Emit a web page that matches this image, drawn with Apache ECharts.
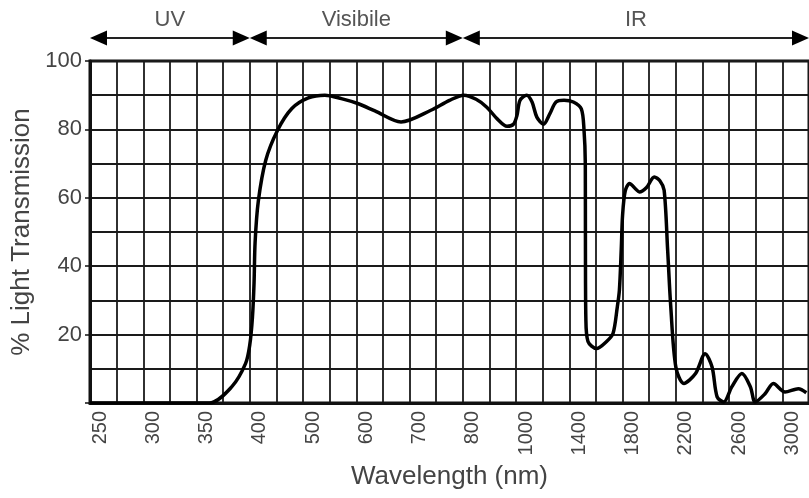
<!DOCTYPE html>
<html><head><meta charset="utf-8">
<script src="https://cdn.jsdelivr.net/npm/echarts@6/dist/echarts.min.js"></script>
<style>html,body{margin:0;padding:0;background:#fff}#c{width:809px;height:498px}</style>
</head><body><div id="c"></div>
<script>
// Tick labels of the (non-linear) wavelength axis, one every 2 grid cells
const tickWavelengths = [250,300,350,400,500,600,700,800,1000,1400,1800,2200,2600,3000];
const yTickLabels = [20,40,60,80,100];
// Spectral regions shown by the arrows above the plot
const regionNames = ['UV','Visibile','IR'];
const regionBounds = [250,400,800,3200];
// Transmission curve
const wavelength = [250,362,383,396,400,405,408,410,416,430,452,479,510,541,572,604,635,684,740,775,804,850,890,930,966,990,1006,1030,1080,1120,1156,1206,1254,1300,1360,1430,1490,1510,1520,1521,1524,1540,1604,1680,1728,1760,1776,1790,1800,1820,1852,1900,1926,1980,2038,2080,2112,2138,2162,2200,2260,2348,2420,2472,2510,2560,2620,2696,2760,2796,2870,2932,3020,3120,3180];
const transmission = [0,0,4.7,11.5,17,25,35,47,59,71,79.7,86.1,89.2,90,89,87.5,85.4,82.2,85.6,88.5,90,88.8,86.5,83,80.9,81.5,84,88.5,90,88,83.6,81.5,84.6,88,88.5,88,86,80,70,45,25,18,15.9,18,20.3,28,33,45,55,62,64.2,62.5,61.7,63,66.1,65,62.2,45,28,10.5,5.7,8.6,14.4,10.5,1.8,0.3,4.7,8.6,4.7,0.3,2.7,5.7,3.2,4.2,3];

// map a wavelength onto the piecewise axis (tick i sits at position 2*i)
function toPos(w){
  const t = tickWavelengths;
  let i = 0;
  while (i < t.length - 2 && w > t[i+1]) i++;
  return 2*i + 2*(w - t[i])/(t[i+1]-t[i]);
}
const FONT = 'Liberation Sans';
const data = wavelength.map((w,k)=>[toPos(w), transmission[k]]);
const chart = echarts.init(document.getElementById('c'), null, {renderer:'canvas'});
const gridLine = {show:true, lineStyle:{color:'#1a1a1a', width:1.8}};
chart.setOption({
  animation:false,
  backgroundColor:'#fff',
  grid:{left:90, top:61, width:726, height:342, show:true, borderColor:'#111', borderWidth:3, backgroundColor:'transparent'},
  xAxis:{type:'value', min:0, max:27, interval:1,
    name:'Wavelength (nm)', nameLocation:'middle', nameGap:58,
    nameTextStyle:{fontFamily:FONT, fontSize:26, color:'#444'},
    axisLine:{show:true, lineStyle:{color:'#111', width:3}},
    axisTick:{show:false},
    splitLine:gridLine,
    axisLabel:{rotate:90, margin:8, fontFamily:FONT, fontSize:20, color:'#444', verticalAlign:'top',
      formatter:v => (v % 2 === 0 && tickWavelengths[v/2] !== undefined) ? String(tickWavelengths[v/2]) : ''}
  },
  yAxis:{type:'value', min:0, max:100, interval:20,
    name:'% Light Transmission', nameLocation:'middle', nameGap:54,
    nameTextStyle:{fontFamily:FONT, fontSize:26, color:'#444'},
    axisLine:{show:true, lineStyle:{color:'#111', width:3}},
    axisTick:{show:true, length:5, lineStyle:{color:'#111', width:1.5}},
    minorTick:{show:false, splitNumber:2},
    splitLine:gridLine,
    minorSplitLine:gridLine,
    axisLabel:{margin:8, fontFamily:FONT, fontSize:22, color:'#444',
      formatter:v => yTickLabels.includes(v) ? String(v) : ''}
  },
  series:[{type:'line', data:data, showSymbol:false, smooth:0.3, clip:true,
    lineStyle:{color:'#000', width:3.5}, z:5}]
});
// arrows for the spectral regions
const ay = 38, hl = 17, hh = 7.5;
const g = [];
for (let r = 0; r < regionNames.length; r++){
  const xa = chart.convertToPixel({gridIndex:0}, [toPos(regionBounds[r]), 0])[0];
  const xb = chart.convertToPixel({gridIndex:0}, [toPos(regionBounds[r+1]), 0])[0];
  g.push({type:'line', shape:{x1:xa+4, y1:ay, x2:xb-4, y2:ay}, style:{stroke:'#222', lineWidth:1.8}});
  g.push({type:'polygon', shape:{points:[[xa,ay],[xa+hl,ay-hh],[xa+hl,ay+hh]]}, style:{fill:'#000'}});
  g.push({type:'polygon', shape:{points:[[xb,ay],[xb-hl,ay-hh],[xb-hl,ay+hh]]}, style:{fill:'#000'}});
  g.push({type:'text', x:(xa+xb)/2, y:20, style:{text:regionNames[r], fontFamily:FONT, fontSize:22, fill:'#555', align:'center', verticalAlign:'middle'}});
}
chart.setOption({graphic:g});
</script></body></html>
